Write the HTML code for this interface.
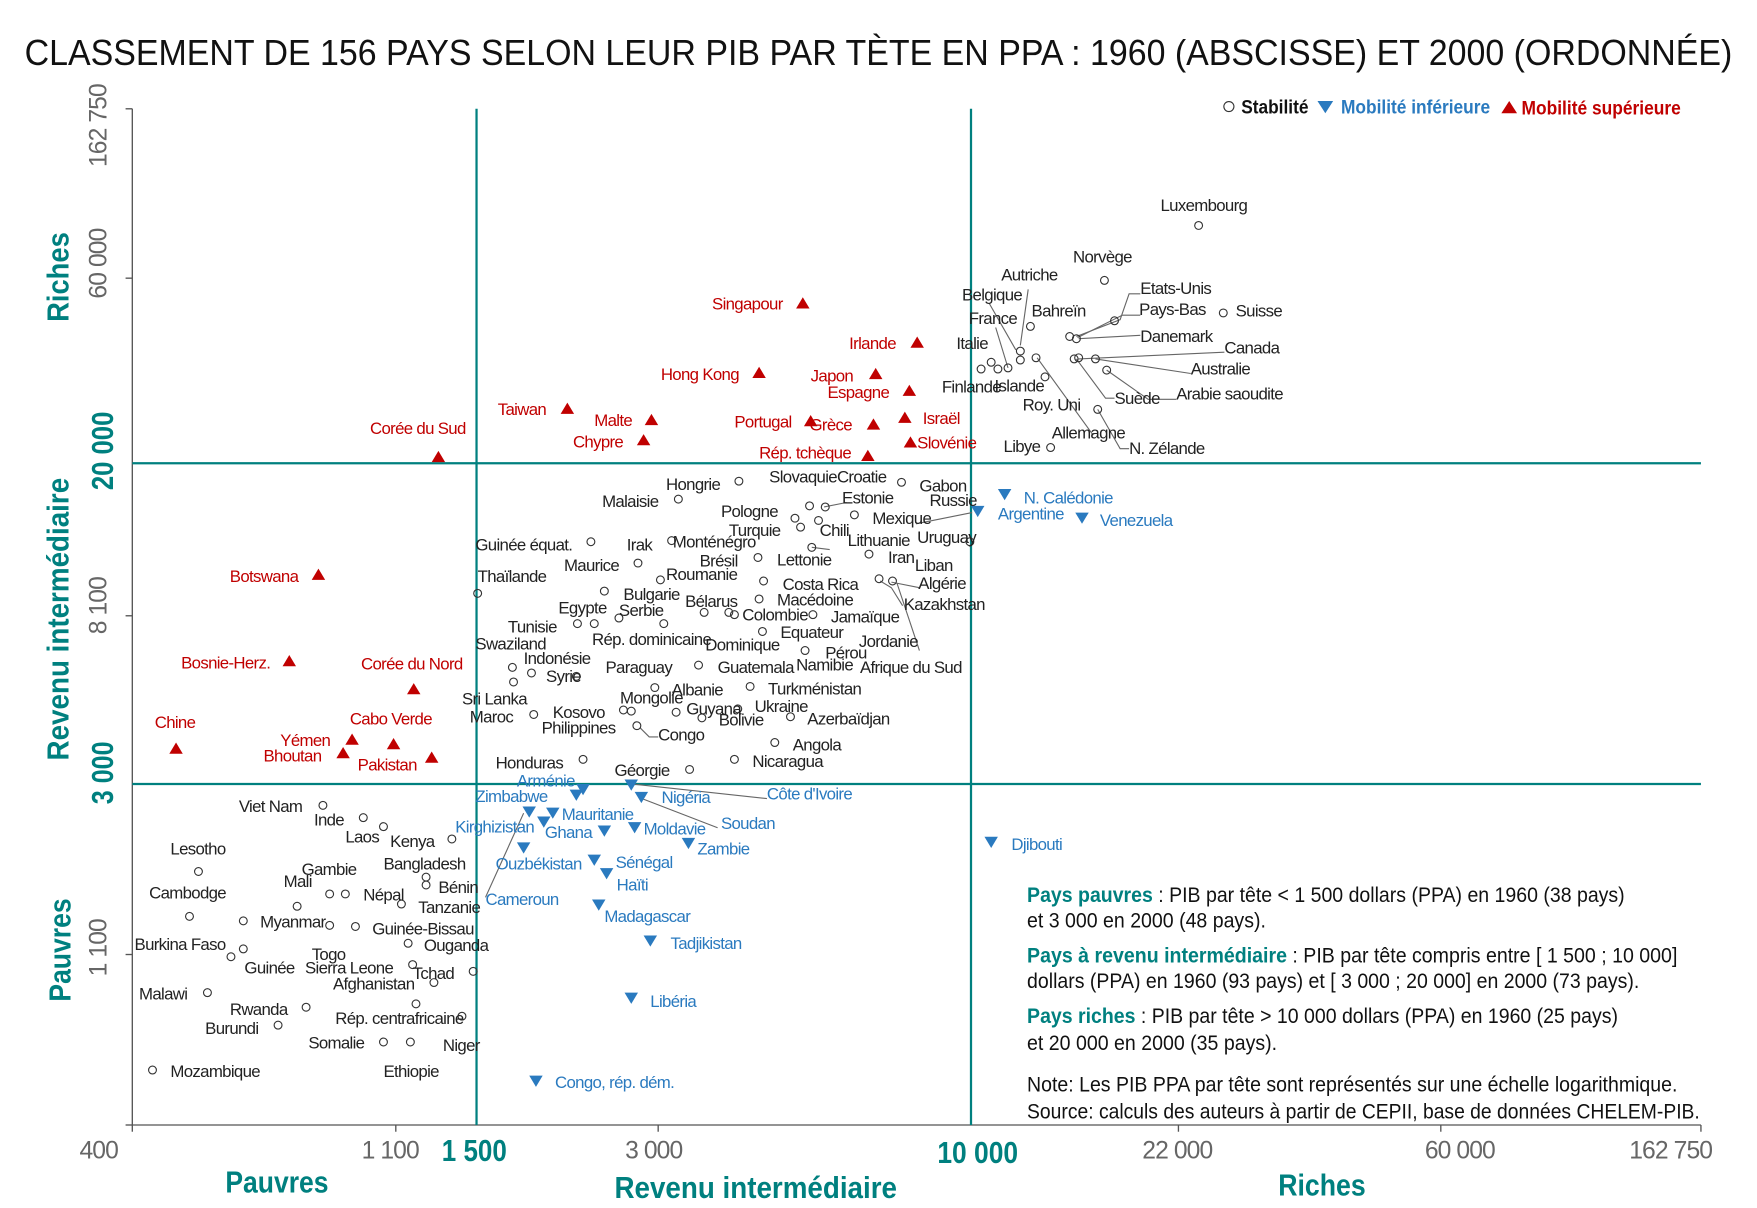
<!DOCTYPE html>
<html><head><meta charset="utf-8">
<style>
html,body{margin:0;padding:0;background:#fff;}
svg{display:block}
text{font-family:"Liberation Sans Narrow","Liberation Sans",sans-serif;}
.k{fill:#222;font-size:15px;letter-spacing:-0.6px}
.b{fill:#2a7abf;font-size:15px;letter-spacing:-0.6px}
.r{fill:#c00000;font-size:15px;letter-spacing:-0.6px}
.t{fill:#00807f;font-weight:bold}
.g{fill:#666;font-size:22px;letter-spacing:-0.8px}
</style></head><body>
<svg width="1757" height="1208" viewBox="0 0 1567 1077" preserveAspectRatio="none" xmlns="http://www.w3.org/2000/svg">
<rect width="1567" height="1077" fill="#fff"/>
<text x="22" y="58" font-size="32" fill="#111" textLength="1523" lengthAdjust="spacingAndGlyphs">CLASSEMENT DE 156 PAYS SELON LEUR PIB PAR TÈTE EN PPA : 1960 (ABSCISSE) ET 2000 (ORDONNÉE)</text>

<!-- axes -->
<g stroke="#555" stroke-width="1.2" fill="none">
<line x1="118" y1="97" x2="118" y2="1003"/>
<line x1="118" y1="1003" x2="1517" y2="1003"/>
<line x1="112" y1="97" x2="118" y2="97"/><line x1="112" y1="248" x2="118" y2="248"/><line x1="112" y1="549" x2="118" y2="549"/><line x1="112" y1="851" x2="118" y2="851"/><line x1="112" y1="1003" x2="118" y2="1003"/>
<line x1="118" y1="1003" x2="118" y2="1009"/><line x1="353" y1="1003" x2="353" y2="1009"/><line x1="587" y1="1003" x2="587" y2="1009"/><line x1="1051" y1="1003" x2="1051" y2="1009"/><line x1="1285" y1="1003" x2="1285" y2="1009"/><line x1="1517" y1="1003" x2="1517" y2="1009"/>
</g>
<g stroke="#00807f" stroke-width="2">
<line x1="425" y1="97" x2="425" y2="1003"/>
<line x1="866" y1="97" x2="866" y2="1003"/>
<line x1="118" y1="413" x2="1517" y2="413"/>
<line x1="118" y1="699" x2="1517" y2="699"/>
</g>

<!-- y tick labels -->
<g class="g" text-anchor="middle">
<text transform="translate(95,112) rotate(-90)">162 750</text>
<text transform="translate(95,235) rotate(-90)">60 000</text>
<text transform="translate(95,540) rotate(-90)">8 100</text>
<text transform="translate(95,845) rotate(-90)">1 100</text>
</g>
<g class="t" font-size="27">
<text transform="translate(101,437) rotate(-90)" textLength="70" lengthAdjust="spacingAndGlyphs">20 000</text>
<text transform="translate(101,717) rotate(-90)" textLength="56" lengthAdjust="spacingAndGlyphs">3 000</text>
<text transform="translate(61,287) rotate(-90)" textLength="80" lengthAdjust="spacingAndGlyphs">Riches</text>
<text transform="translate(61,678) rotate(-90)" textLength="252" lengthAdjust="spacingAndGlyphs">Revenu  intermédiaire</text>
<text transform="translate(63,893) rotate(-90)" textLength="92" lengthAdjust="spacingAndGlyphs">Pauvres</text>
</g>
<!-- x tick labels -->
<g class="g" text-anchor="middle">
<text x="88" y="1033">400</text>
<text x="348" y="1033">1 100</text>
<text x="583" y="1033">3 000</text>
<text x="1050" y="1033">22 000</text>
<text x="1302" y="1033">60 000</text>
<text x="1490" y="1033">162 750</text>
</g>
<g class="t" font-size="27">
<text x="394" y="1035" textLength="58" lengthAdjust="spacingAndGlyphs">1 500</text>
<text x="836" y="1037" textLength="72" lengthAdjust="spacingAndGlyphs">10 000</text>
<text x="201" y="1063" textLength="92" lengthAdjust="spacingAndGlyphs">Pauvres</text>
<text x="548" y="1068" textLength="252" lengthAdjust="spacingAndGlyphs">Revenu  intermédiaire</text>
<text x="1140" y="1066" textLength="78" lengthAdjust="spacingAndGlyphs">Riches</text>
</g>

<!-- legend -->
<g font-size="17" font-weight="bold">
<circle cx="1096" cy="95" r="4.5" fill="none" stroke="#333"/>
<text x="1107" y="101" fill="#111" textLength="60" lengthAdjust="spacingAndGlyphs">Stabilité</text>
<path d="M1175,90 h14 l-7,11z" fill="#2a7abf"/>
<text x="1196" y="101" fill="#2a7abf" textLength="133" lengthAdjust="spacingAndGlyphs">Mobilité inférieure</text>
<path d="M1339,101 h14 l-7,-11z" fill="#c00000"/>
<text x="1357" y="102" fill="#c00000" textLength="142" lengthAdjust="spacingAndGlyphs">Mobilité supérieure</text>
</g>

<!-- leader lines -->
<g stroke="#666" stroke-width="1" fill="none">
<path d="M1017,262 h-10 l-8,23 l-39,15"/>
<path d="M1017,281 h-16 l-40,20"/>
<path d="M1017,299 l-55,3"/>
<path d="M1092,314 l-130,6"/>
<path d="M1062,333 l-85,-13"/>
<path d="M1049,356 l-25,0 l-37,-26"/>
<path d="M994,355 l-8,0 l-26,-35"/>
<path d="M1007,400 l-8,0 l-20,-35"/>
<path d="M975,388 l-50,-69"/>
<path d="M917,258 l-7,50"/>
<path d="M882,270 l24,42"/>
<path d="M888,292 l11,36"/>
<path d="M684,712 l-120,-13"/>
<path d="M640,738 l-70,-27"/>
<path d="M433,800 l34,-75"/>
<path d="M755,448 l-20,4"/>
<path d="M867,457 l-50,10"/>
<path d="M740,490 l-16,-2"/>
<path d="M820,524 l-25,-5"/>
<path d="M805,540 l-10,-16 l-10,-6"/>
<path d="M820,580 l-20,-60"/>
<path d="M587,657 l-8,0 l-8,-8"/>
</g>

<!-- red triangles -->
<g fill="#c00000">
<path d="M716,265 l6,10 h-12z"/><path d="M818,300 l6,10 h-12z"/><path d="M677,327 l6,10 h-12z"/>
<path d="M781,328 l6,10 h-12z"/><path d="M811,343 l6,10 h-12z"/><path d="M506,359 l6,10 h-12z"/>
<path d="M581,369 l6,10 h-12z"/><path d="M723,370 l6,10 h-12z"/><path d="M779,373 l6,10 h-12z"/>
<path d="M807,367 l6,10 h-12z"/><path d="M574,387 l6,10 h-12z"/><path d="M812,389 l6,10 h-12z"/>
<path d="M774,401 l6,10 h-12z"/><path d="M391,402 l6,10 h-12z"/><path d="M284,507 l6,10 h-12z"/>
<path d="M258,584 l6,10 h-12z"/><path d="M369,609 l6,10 h-12z"/><path d="M157,662 l6,10 h-12z"/>
<path d="M351,658 l6,10 h-12z"/><path d="M314,654 l6,10 h-12z"/><path d="M306,666 l6,10 h-12z"/>
<path d="M385,670 l6,10 h-12z"/>
</g>
<g class="r">
<text x="698" y="276" text-anchor="end">Singapour</text>
<text x="799" y="311" text-anchor="end">Irlande</text>
<text x="659" y="339" text-anchor="end">Hong Kong</text>
<text x="723" y="340">Japon</text>
<text x="738" y="355">Espagne</text>
<text x="487" y="370" text-anchor="end">Taiwan</text>
<text x="530" y="380">Malte</text>
<text x="706" y="381" text-anchor="end">Portugal</text>
<text x="722" y="384">Grèce</text>
<text x="823" y="378">Israël</text>
<text x="511" y="399">Chypre</text>
<text x="818" y="400">Slovénie</text>
<text x="759" y="409" text-anchor="end">Rép. tchèque</text>
<text x="330" y="387">Corée du Sud</text>
<text x="266" y="519" text-anchor="end">Botswana</text>
<text x="241" y="596" text-anchor="end">Bosnie-Herz.</text>
<text x="322" y="597">Corée du Nord</text>
<text x="138" y="649">Chine</text>
<text x="312" y="646">Cabo Verde</text>
<text x="250" y="665">Yémen</text>
<text x="235" y="679">Bhoutan</text>
<text x="319" y="687">Pakistan</text>
</g>

<!-- blue triangles -->
<g fill="#2a7abf">
<path d="M890,436 h12 l-6,10z"/><path d="M866,451 h12 l-6,10z"/><path d="M959,457 h12 l-6,10z"/>
<path d="M514,699 h12 l-6,10z"/><path d="M508,704 h12 l-6,10z"/><path d="M557,695 h12 l-6,10z"/>
<path d="M566,706 h12 l-6,10z"/><path d="M487,720 h12 l-6,10z"/><path d="M466,719 h12 l-6,10z"/>
<path d="M479,728 h12 l-6,10z"/><path d="M560,733 h12 l-6,10z"/><path d="M533,736 h12 l-6,10z"/>
<path d="M608,747 h12 l-6,10z"/><path d="M461,751 h12 l-6,10z"/><path d="M524,762 h12 l-6,10z"/>
<path d="M535,774 h12 l-6,10z"/><path d="M528,802 h12 l-6,10z"/><path d="M574,834 h12 l-6,10z"/>
<path d="M557,885 h12 l-6,10z"/><path d="M472,959 h12 l-6,10z"/><path d="M878,746 h12 l-6,10z"/>
</g>
<g class="b">
<text x="913" y="449">N. Calédonie</text>
<text x="890" y="463">Argentine</text>
<text x="981" y="469">Venezuela</text>
<text x="461" y="701">Arménie</text>
<text x="424" y="715">Zimbabwe</text>
<text x="684" y="713">Côte d'Ivoire</text>
<text x="590" y="716">Nigéria</text>
<text x="501" y="731">Mauritanie</text>
<text x="406" y="742">Kirghizistan</text>
<text x="486" y="747">Ghana</text>
<text x="574" y="744">Moldavie</text>
<text x="643" y="739">Soudan</text>
<text x="622" y="762">Zambie</text>
<text x="433" y="807">Cameroun</text>
<text x="442" y="775">Ouzbékistan</text>
<text x="549" y="774">Sénégal</text>
<text x="550" y="794">Haïti</text>
<text x="539" y="822">Madagascar</text>
<text x="598" y="846">Tadjikistan</text>
<text x="580" y="898">Libéria</text>
<text x="495" y="970">Congo, rép. dém.</text>
<text x="902" y="758">Djibouti</text>
</g>

<!-- circles -->
<g fill="none" stroke="#333" stroke-width="1">
<circle cx="1069" cy="201" r="3.5"/><circle cx="985" cy="250" r="3.5"/><circle cx="1091" cy="279" r="3.5"/>
<circle cx="875" cy="329" r="3.5"/><circle cx="884" cy="323" r="3.5"/><circle cx="890" cy="329" r="3.5"/><circle cx="899" cy="328" r="3.5"/>
<circle cx="910" cy="313" r="3.5"/><circle cx="910" cy="321" r="3.5"/><circle cx="924" cy="319" r="3.5"/><circle cx="919" cy="291" r="3.5"/>
<circle cx="932" cy="336" r="3.5"/><circle cx="954" cy="300" r="3.5"/><circle cx="960" cy="302" r="3.5"/><circle cx="958" cy="320" r="3.5"/>
<circle cx="962" cy="319" r="3.5"/><circle cx="977" cy="320" r="3.5"/><circle cx="987" cy="330" r="3.5"/><circle cx="994" cy="286" r="3.5"/>
<circle cx="979" cy="365" r="3.5"/><circle cx="937" cy="399" r="3.5"/>
<circle cx="659" cy="429" r="3.5"/><circle cx="605" cy="445" r="3.5"/><circle cx="722" cy="451" r="3.5"/><circle cx="736" cy="452" r="3.5"/>
<circle cx="804" cy="430" r="3.5"/><circle cx="709" cy="462" r="3.5"/><circle cx="730" cy="464" r="3.5"/><circle cx="762" cy="459" r="3.5"/>
<circle cx="714" cy="470" r="3.5"/><circle cx="527" cy="483" r="3.5"/><circle cx="599" cy="482" r="3.5"/><circle cx="865" cy="483" r="3.5"/>
<circle cx="569" cy="502" r="3.5"/><circle cx="676" cy="497" r="3.5"/><circle cx="724" cy="488" r="3.5"/><circle cx="775" cy="494" r="3.5"/>
<circle cx="426" cy="529" r="3.5"/><circle cx="589" cy="517" r="3.5"/><circle cx="681" cy="518" r="3.5"/><circle cx="784" cy="516" r="3.5"/>
<circle cx="796" cy="518" r="3.5"/><circle cx="539" cy="527" r="3.5"/><circle cx="677" cy="534" r="3.5"/><circle cx="515" cy="556" r="3.5"/>
<circle cx="530" cy="556" r="3.5"/><circle cx="552" cy="551" r="3.5"/><circle cx="628" cy="546" r="3.5"/><circle cx="650" cy="546" r="3.5"/>
<circle cx="655" cy="548" r="3.5"/><circle cx="725" cy="548" r="3.5"/><circle cx="592" cy="556" r="3.5"/><circle cx="680" cy="563" r="3.5"/>
<circle cx="718" cy="580" r="3.5"/><circle cx="623" cy="593" r="3.5"/><circle cx="457" cy="595" r="3.5"/><circle cx="474" cy="600" r="3.5"/>
<circle cx="514" cy="603" r="3.5"/><circle cx="458" cy="608" r="3.5"/><circle cx="669" cy="612" r="3.5"/><circle cx="584" cy="613" r="3.5"/>
<circle cx="476" cy="637" r="3.5"/><circle cx="556" cy="633" r="3.5"/><circle cx="563" cy="634" r="3.5"/><circle cx="603" cy="635" r="3.5"/>
<circle cx="626" cy="640" r="3.5"/><circle cx="658" cy="632" r="3.5"/><circle cx="705" cy="639" r="3.5"/><circle cx="568" cy="647" r="3.5"/>
<circle cx="691" cy="662" r="3.5"/><circle cx="655" cy="677" r="3.5"/><circle cx="520" cy="677" r="3.5"/><circle cx="615" cy="686" r="3.5"/>
<circle cx="288" cy="718" r="3.5"/><circle cx="324" cy="729" r="3.5"/><circle cx="342" cy="737" r="3.5"/><circle cx="403" cy="748" r="3.5"/>
<circle cx="177" cy="777" r="3.5"/><circle cx="294" cy="797" r="3.5"/><circle cx="308" cy="797" r="3.5"/><circle cx="380" cy="782" r="3.5"/>
<circle cx="380" cy="789" r="3.5"/><circle cx="358" cy="806" r="3.5"/><circle cx="169" cy="817" r="3.5"/><circle cx="217" cy="821" r="3.5"/>
<circle cx="294" cy="825" r="3.5"/><circle cx="317" cy="826" r="3.5"/><circle cx="265" cy="808" r="3.5"/><circle cx="217" cy="846" r="3.5"/>
<circle cx="206" cy="853" r="3.5"/><circle cx="364" cy="841" r="3.5"/><circle cx="368" cy="860" r="3.5"/><circle cx="422" cy="866" r="3.5"/>
<circle cx="387" cy="876" r="3.5"/><circle cx="185" cy="885" r="3.5"/><circle cx="273" cy="898" r="3.5"/><circle cx="371" cy="895" r="3.5"/>
<circle cx="412" cy="906" r="3.5"/><circle cx="248" cy="914" r="3.5"/><circle cx="342" cy="929" r="3.5"/><circle cx="366" cy="929" r="3.5"/>
<circle cx="136" cy="954" r="3.5"/>
</g>
<g class="k">
<text x="1035" y="188">Luxembourg</text>
<text x="957" y="234">Norvège</text>
<text x="893" y="250">Autriche</text>
<text x="858" y="268">Belgique</text>
<text x="920" y="282">Bahreïn</text>
<text x="864" y="289">France</text>
<text x="853" y="311">Italie</text>
<text x="1017" y="262">Etats-Unis</text>
<text x="1016" y="281">Pays-Bas</text>
<text x="1102" y="282">Suisse</text>
<text x="1017" y="305">Danemark</text>
<text x="1092" y="315">Canada</text>
<text x="1062" y="334">Australie</text>
<text x="1049" y="356">Arabie saoudite</text>
<text x="994" y="360">Suède</text>
<text x="840" y="350">Finlande</text>
<text x="887" y="349">Islande</text>
<text x="912" y="366">Roy. Uni</text>
<text x="938" y="391">Allemagne</text>
<text x="895" y="403">Libye</text>
<text x="1007" y="405">N. Zélande</text>

<text x="594" y="437">Hongrie</text>
<text x="537" y="452">Malaisie</text>
<text x="686" y="430">SlovaquieCroatie</text>
<text x="820" y="438">Gabon</text>
<text x="751" y="449">Estonie</text>
<text x="829" y="451">Russie</text>
<text x="643" y="461">Pologne</text>
<text x="778" y="467">Mexique</text>
<text x="650" y="478">Turquie</text>
<text x="731" y="478">Chili</text>
<text x="424" y="491">Guinée équat.</text>
<text x="559" y="491">Irak</text>
<text x="600" y="488">Monténégro</text>
<text x="756" y="487">Lithuanie</text>
<text x="818" y="484">Uruguay</text>
<text x="503" y="509">Maurice</text>
<text x="624" y="505">Brésil</text>
<text x="693" y="504">Lettonie</text>
<text x="792" y="502">Iran</text>
<text x="816" y="509">Liban</text>
<text x="426" y="519">Thaïlande</text>
<text x="594" y="517">Roumanie</text>
<text x="698" y="526">Costa Rica</text>
<text x="819" y="525">Algérie</text>
<text x="556" y="535">Bulgarie</text>
<text x="611" y="541">Bélarus</text>
<text x="693" y="540">Macédoine</text>
<text x="806" y="544">Kazakhstan</text>
<text x="498" y="547">Egypte</text>
<text x="552" y="549">Serbie</text>
<text x="662" y="553">Colombie</text>
<text x="741" y="555">Jamaïque</text>
<text x="453" y="564">Tunisie</text>
<text x="424" y="579">Swaziland</text>
<text x="528" y="575">Rép. dominicaine</text>
<text x="629" y="580">Dominique</text>
<text x="696" y="569">Equateur</text>
<text x="766" y="577">Jordanie</text>
<text x="736" y="587">Pérou</text>
<text x="467" y="592">Indonésie</text>
<text x="540" y="600">Paraguay</text>
<text x="640" y="600">Guatemala</text>
<text x="710" y="598">Namibie</text>
<text x="767" y="600">Afrique du Sud</text>
<text x="487" y="608">Syrie</text>
<text x="599" y="620">Albanie</text>
<text x="685" y="619">Turkménistan</text>
<text x="412" y="628">Sri Lanka</text>
<text x="553" y="627">Mongolie</text>
<text x="419" y="644">Maroc</text>
<text x="493" y="640">Kosovo</text>
<text x="612" y="637">Guyana</text>
<text x="673" y="635">Ukraine</text>
<text x="641" y="647">Bolivie</text>
<text x="720" y="646">Azerbaïdjan</text>
<text x="483" y="654">Philippines</text>
<text x="587" y="660">Congo</text>
<text x="707" y="669">Angola</text>
<text x="671" y="684">Nicaragua</text>
<text x="442" y="685">Honduras</text>
<text x="548" y="692">Géorgie</text>

<text x="213" y="724">Viet Nam</text>
<text x="280" y="736">Inde</text>
<text x="308" y="751">Laos</text>
<text x="348" y="755">Kenya</text>
<text x="152" y="762">Lesotho</text>
<text x="269" y="780">Gambie</text>
<text x="342" y="775">Bangladesh</text>
<text x="253" y="791">Mali</text>
<text x="324" y="803">Népal</text>
<text x="391" y="796">Bénin</text>
<text x="373" y="814">Tanzanie</text>
<text x="133" y="801">Cambodge</text>
<text x="232" y="827">Myanmar</text>
<text x="332" y="833">Guinée-Bissau</text>
<text x="120" y="847">Burkina Faso</text>
<text x="378" y="848">Ouganda</text>
<text x="278" y="856">Togo</text>
<text x="218" y="868">Guinée</text>
<text x="272" y="868">Sierra Leone</text>
<text x="368" y="873">Tchad</text>
<text x="297" y="882">Afghanistan</text>
<text x="124" y="891">Malawi</text>
<text x="205" y="905">Rwanda</text>
<text x="299" y="913">Rép. centrafricaine</text>
<text x="183" y="922">Burundi</text>
<text x="275" y="935">Somalie</text>
<text x="395" y="937">Niger</text>
<text x="152" y="960">Mozambique</text>
<text x="342" y="960">Ethiopie</text>
</g>

<!-- notes -->
<g font-size="19" fill="#111">
<text x="916" y="804" textLength="533" lengthAdjust="spacingAndGlyphs"><tspan class="t" font-weight="bold">Pays pauvres</tspan> : PIB  par tête &lt; 1 500 dollars (PPA) en 1960 (38 pays)</text>
<text x="916" y="827" textLength="213" lengthAdjust="spacingAndGlyphs">et 3 000 en 2000 (48 pays).</text>
<text x="916" y="858" textLength="580" lengthAdjust="spacingAndGlyphs"><tspan class="t" font-weight="bold">Pays à revenu intermédiaire</tspan> : PIB  par tête compris entre  [ 1 500 ; 10 000]</text>
<text x="916" y="881" textLength="546" lengthAdjust="spacingAndGlyphs">dollars (PPA) en 1960 (93 pays) et [ 3 000 ; 20 000] en 2000 (73 pays).</text>
<text x="916" y="912" textLength="527" lengthAdjust="spacingAndGlyphs"><tspan class="t" font-weight="bold">Pays riches</tspan> : PIB  par tête &gt; 10 000 dollars (PPA) en 1960 (25 pays)</text>
<text x="916" y="936" textLength="223" lengthAdjust="spacingAndGlyphs">et 20 000 en 2000 (35 pays).</text>
<text x="916" y="973" textLength="580" lengthAdjust="spacingAndGlyphs">Note: Les PIB PPA par tête sont représentés sur une échelle logarithmique.</text>
<text x="916" y="997" textLength="600" lengthAdjust="spacingAndGlyphs">Source: calculs des auteurs à partir de CEPII,  base de données CHELEM-PIB.</text>
</g>
</svg>
</body></html>
